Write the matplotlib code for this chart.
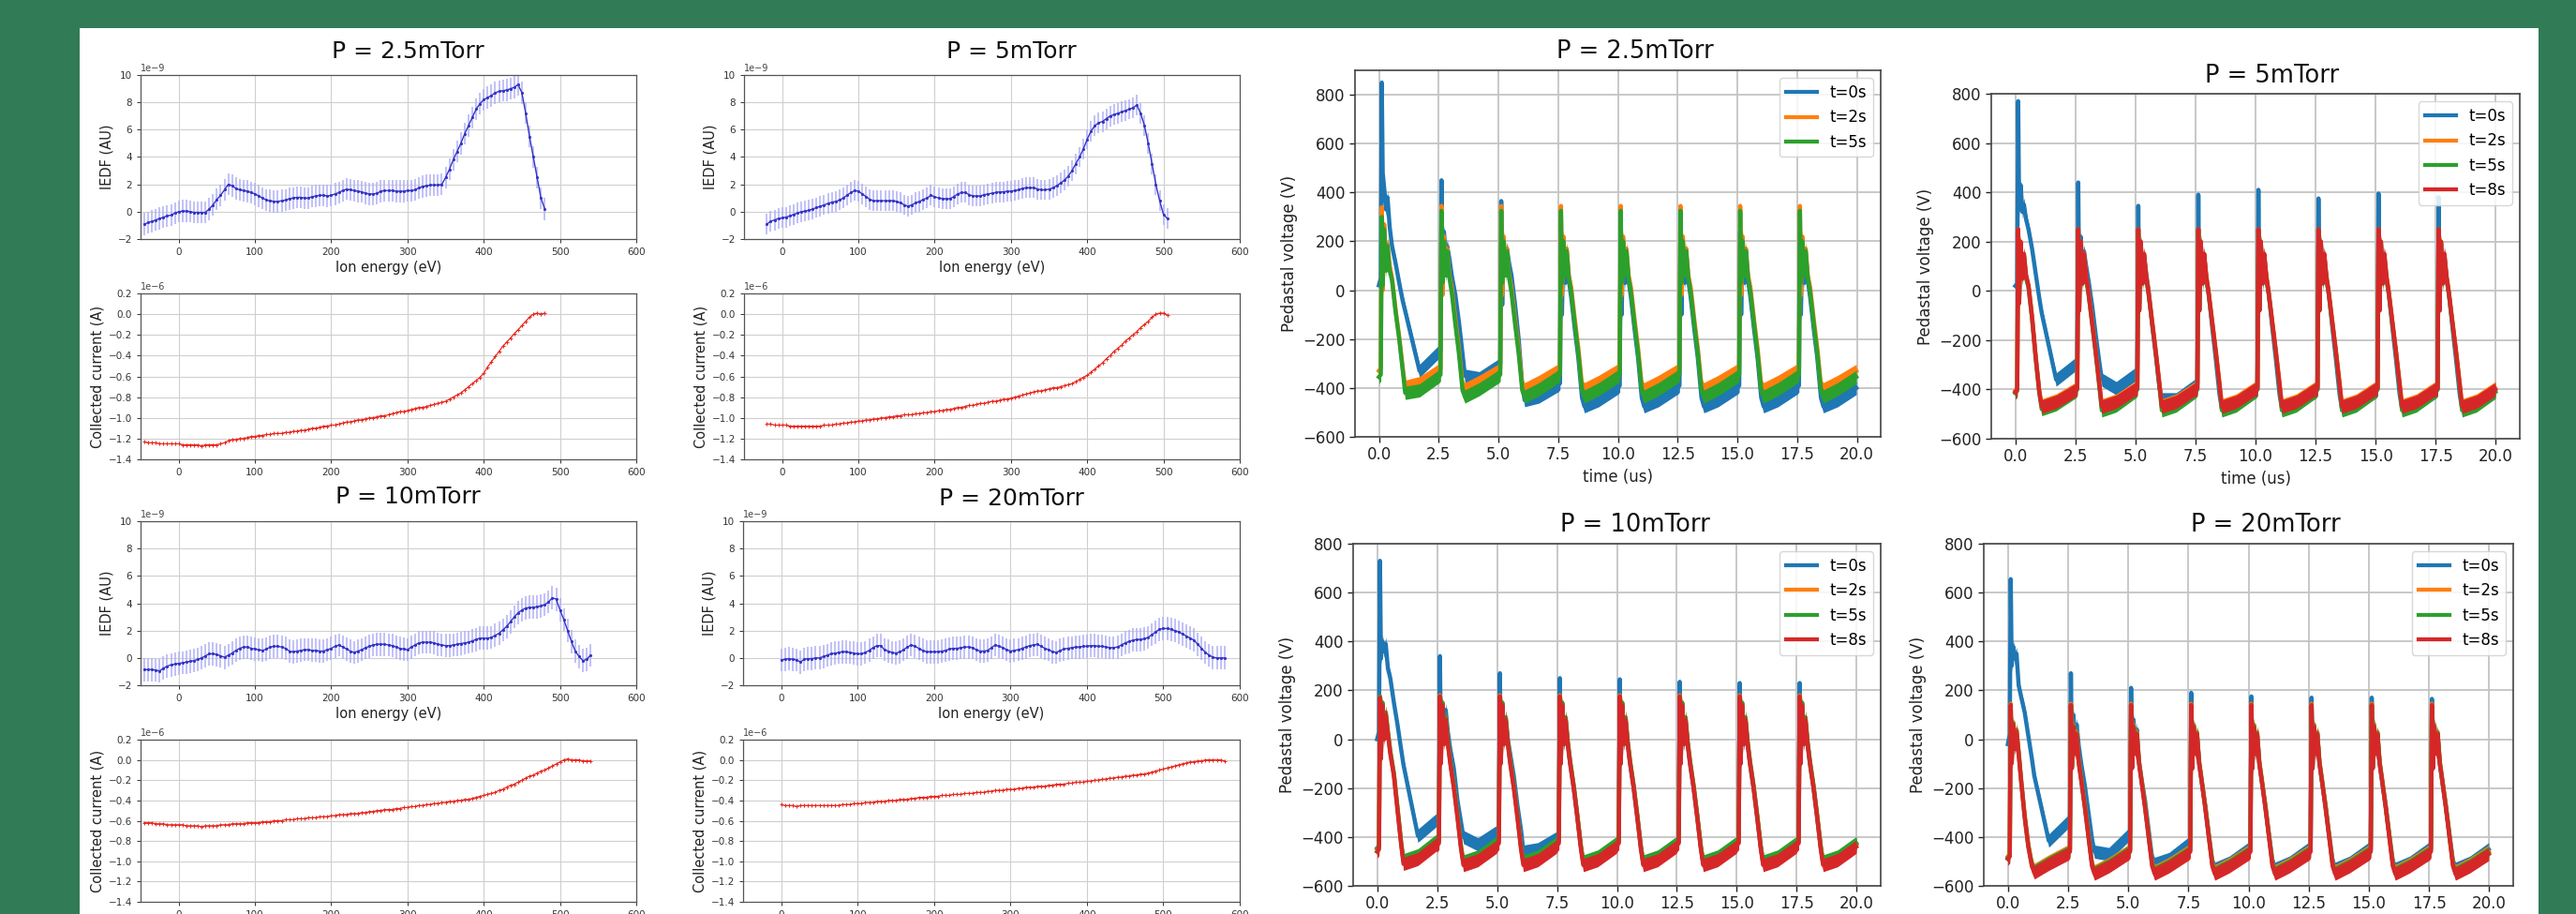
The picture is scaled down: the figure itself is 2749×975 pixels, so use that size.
import numpy as np
import matplotlib
matplotlib.use("Agg")
import matplotlib.pyplot as plt
from matplotlib.patches import Rectangle
from matplotlib.ticker import ScalarFormatter

# ---------------------------------------------------------------- data
E_STEP = 5  # eV between retarding-field samples

# IEDF (units of 1e-9 AU) and collected current (units of 1e-6 A)
E0_25 = -45
IEDF_25 = [-0.9, -0.8, -0.7, -0.6, -0.5, -0.4, -0.3, -0.25, -0.1, 0.0, 0.05, 0.05, 0.0, -0.05, -0.05,
           -0.05, -0.05, 0.2, 0.5, 0.9, 1.2, 1.6, 2.0, 1.9, 1.7, 1.6, 1.55, 1.5, 1.4, 1.3, 1.15, 1.0,
           0.85, 0.8, 0.75, 0.75, 0.8, 0.85, 0.95, 1.0, 1.05, 1.05, 1.0, 1.0, 1.1, 1.15, 1.2, 1.2, 1.15,
           1.2, 1.3, 1.4, 1.55, 1.65, 1.6, 1.55, 1.5, 1.45, 1.35, 1.3, 1.3, 1.35, 1.5, 1.55, 1.55, 1.55,
           1.5, 1.5, 1.5, 1.55, 1.55, 1.6, 1.75, 1.85, 1.9, 1.95, 1.95, 1.95, 2.0, 2.5, 3.1, 3.8, 4.4,
           5.0, 5.7, 6.3, 6.9, 7.5, 7.9, 8.2, 8.35, 8.5, 8.7, 8.8, 8.85, 8.9, 9.0, 9.1, 9.3, 8.7, 7.2,
           5.5, 4.0, 2.5, 1.0, 0.2]
CUR_25 = [-1.23, -1.24, -1.24, -1.24, -1.25, -1.25, -1.25, -1.25, -1.25, -1.25, -1.26, -1.26, -1.26,
          -1.26, -1.26, -1.27, -1.26, -1.26, -1.26, -1.26, -1.25, -1.24, -1.22, -1.21, -1.21, -1.2,
          -1.2, -1.19, -1.18, -1.18, -1.17, -1.17, -1.16, -1.16, -1.15, -1.15, -1.15, -1.14, -1.14,
          -1.13, -1.13, -1.12, -1.12, -1.11, -1.1, -1.1, -1.09, -1.08, -1.08, -1.07, -1.07, -1.06,
          -1.05, -1.04, -1.04, -1.03, -1.02, -1.02, -1.01, -1.0, -1.0, -0.99, -0.98, -0.98, -0.97,
          -0.96, -0.95, -0.94, -0.94, -0.93, -0.92, -0.91, -0.9, -0.9, -0.89, -0.88, -0.87, -0.86,
          -0.85, -0.84, -0.82, -0.8, -0.78, -0.76, -0.73, -0.7, -0.67, -0.64, -0.61, -0.57, -0.51,
          -0.46, -0.41, -0.36, -0.31, -0.27, -0.23, -0.19, -0.15, -0.11, -0.07, -0.03, 0.0, 0.01,
          0.0, 0.01]

E0_5 = -20
IEDF_5 = [-0.9, -0.7, -0.6, -0.5, -0.45, -0.4, -0.3, -0.2, -0.1, 0.0, 0.05, 0.1, 0.2, 0.3, 0.4, 0.5,
          0.6, 0.7, 0.75, 0.85, 1.0, 1.2, 1.4, 1.55, 1.5, 1.3, 1.1, 0.9, 0.8, 0.8, 0.8, 0.8, 0.8, 0.8,
          0.75, 0.65, 0.5, 0.4, 0.5, 0.65, 0.75, 0.9, 1.0, 1.2, 1.1, 1.0, 0.95, 0.95, 0.95, 1.1, 1.3,
          1.4, 1.4, 1.25, 1.15, 1.15, 1.15, 1.25, 1.3, 1.35, 1.4, 1.45, 1.45, 1.5, 1.5, 1.55, 1.6,
          1.7, 1.75, 1.75, 1.75, 1.65, 1.6, 1.6, 1.65, 1.75, 1.9, 2.1, 2.3, 2.6, 3.0, 3.5, 4.0, 4.6,
          5.3, 5.9, 6.3, 6.5, 6.6, 6.8, 7.0, 7.1, 7.2, 7.3, 7.4, 7.5, 7.6, 7.8, 7.2, 6.3, 5.0, 3.5,
          2.0, 0.8, -0.2, -0.5]
CUR_5 = [-1.06, -1.06, -1.07, -1.07, -1.07, -1.07, -1.08, -1.08, -1.08, -1.08, -1.08, -1.08, -1.08,
         -1.08, -1.08, -1.07, -1.07, -1.07, -1.06, -1.06, -1.05, -1.05, -1.04, -1.04, -1.03, -1.03,
         -1.02, -1.02, -1.01, -1.01, -1.0, -1.0, -0.99, -0.99, -0.98, -0.98, -0.97, -0.97, -0.97,
         -0.96, -0.96, -0.95, -0.95, -0.94, -0.94, -0.93, -0.93, -0.92, -0.92, -0.91, -0.9, -0.9,
         -0.89, -0.88, -0.88, -0.87, -0.86, -0.86, -0.85, -0.84, -0.84, -0.83, -0.82, -0.82, -0.81,
         -0.8, -0.79, -0.78, -0.77, -0.76, -0.75, -0.74, -0.74, -0.73, -0.72, -0.71, -0.71, -0.7,
         -0.69, -0.68, -0.67, -0.65, -0.63, -0.61, -0.59, -0.56, -0.53, -0.5, -0.47, -0.43, -0.4,
         -0.36, -0.33, -0.3, -0.26, -0.23, -0.2, -0.17, -0.13, -0.1, -0.07, -0.03, 0.0, 0.01, 0.01,
         -0.01]

E0_10 = -45
IEDF_10 = [-0.85, -0.85, -0.85, -0.9, -0.95, -0.75, -0.6, -0.5, -0.45, -0.4, -0.35, -0.3, -0.25,
           -0.2, -0.1, 0.0, 0.15, 0.3, 0.3, 0.25, 0.15, 0.05, 0.2, 0.35, 0.55, 0.7, 0.8, 0.8, 0.7,
           0.65, 0.6, 0.55, 0.65, 0.8, 0.85, 0.85, 0.8, 0.7, 0.5, 0.45, 0.5, 0.55, 0.6, 0.6, 0.55,
           0.55, 0.5, 0.5, 0.6, 0.7, 0.85, 0.95, 0.8, 0.65, 0.5, 0.4, 0.5, 0.6, 0.75, 0.85, 0.95,
           1.0, 1.0, 1.0, 0.95, 0.9, 0.8, 0.7, 0.65, 0.6, 0.8, 0.95, 1.1, 1.15, 1.15, 1.15, 1.1,
           1.0, 0.95, 0.9, 0.9, 0.95, 1.0, 1.05, 1.1, 1.15, 1.25, 1.35, 1.45, 1.45, 1.45, 1.5, 1.65,
           1.8, 2.05, 2.3, 2.65, 3.0, 3.3, 3.5, 3.65, 3.7, 3.7, 3.75, 3.8, 3.9, 4.1, 4.4, 4.3, 3.5,
           2.8, 2.0, 1.2, 0.5, 0.1, -0.2, -0.1, 0.2]
CUR_10 = [-0.62, -0.62, -0.62, -0.63, -0.63, -0.63, -0.64, -0.64, -0.64, -0.64, -0.64, -0.65, -0.65,
          -0.65, -0.65, -0.66, -0.65, -0.65, -0.65, -0.65, -0.64, -0.64, -0.64, -0.63, -0.63, -0.63,
          -0.63, -0.62, -0.62, -0.62, -0.62, -0.61, -0.61, -0.61, -0.6, -0.6, -0.6, -0.59, -0.59,
          -0.59, -0.58, -0.58, -0.58, -0.57, -0.57, -0.57, -0.56, -0.56, -0.56, -0.55, -0.55, -0.54,
          -0.54, -0.54, -0.53, -0.53, -0.53, -0.52, -0.52, -0.51, -0.51, -0.5, -0.5, -0.49, -0.49,
          -0.49, -0.48, -0.48, -0.47, -0.47, -0.46, -0.46, -0.45, -0.45, -0.44, -0.44, -0.43, -0.43,
          -0.42, -0.42, -0.41, -0.41, -0.4, -0.4, -0.39, -0.39, -0.38, -0.37, -0.36, -0.35, -0.34,
          -0.33, -0.32, -0.3, -0.29, -0.27, -0.25, -0.24, -0.22, -0.2, -0.18, -0.16, -0.15, -0.13,
          -0.11, -0.1, -0.08, -0.06, -0.04, -0.02, 0.0, 0.01, 0.0, 0.0, 0.0, -0.01, -0.01, -0.01]

E0_20 = 0
IEDF_20 = [-0.15, -0.1, -0.05, -0.1, -0.15, -0.3, -0.1, -0.05, -0.05, 0.0, 0.0, 0.1, 0.2, 0.3, 0.35,
           0.4, 0.45, 0.45, 0.4, 0.35, 0.3, 0.3, 0.4, 0.55, 0.75, 0.9, 0.9, 0.6, 0.5, 0.4, 0.35,
           0.45, 0.6, 0.8, 0.95, 0.85, 0.7, 0.55, 0.45, 0.45, 0.45, 0.45, 0.5, 0.55, 0.65, 0.7, 0.7,
           0.75, 0.8, 0.8, 0.75, 0.6, 0.5, 0.5, 0.55, 0.75, 0.95, 0.85, 0.75, 0.6, 0.5, 0.55, 0.6,
           0.7, 0.8, 0.9, 0.95, 1.0, 0.85, 0.7, 0.6, 0.45, 0.4, 0.55, 0.65, 0.7, 0.75, 0.8, 0.8,
           0.85, 0.85, 0.9, 0.9, 0.85, 0.85, 0.8, 0.75, 0.75, 0.8, 0.95, 1.1, 1.2, 1.3, 1.35, 1.35,
           1.4, 1.5, 1.7, 1.9, 2.1, 2.15, 2.15, 2.1, 2.0, 1.9, 1.75, 1.6, 1.45, 1.3, 1.0, 0.7, 0.4,
           0.2, 0.05, 0.0, 0.0, 0.0]
CUR_20 = [-0.44, -0.45, -0.45, -0.45, -0.46, -0.45, -0.45, -0.45, -0.45, -0.45, -0.45, -0.45, -0.45,
          -0.45, -0.45, -0.45, -0.44, -0.44, -0.44, -0.43, -0.43, -0.43, -0.42, -0.42, -0.42, -0.41,
          -0.41, -0.41, -0.4, -0.4, -0.4, -0.39, -0.39, -0.39, -0.38, -0.38, -0.37, -0.37, -0.37,
          -0.36, -0.36, -0.36, -0.35, -0.35, -0.35, -0.34, -0.34, -0.34, -0.33, -0.33, -0.33, -0.32,
          -0.32, -0.32, -0.31, -0.31, -0.3, -0.3, -0.3, -0.29, -0.29, -0.29, -0.28, -0.28, -0.27,
          -0.27, -0.27, -0.26, -0.26, -0.26, -0.25, -0.25, -0.24, -0.24, -0.24, -0.23, -0.23, -0.22,
          -0.22, -0.22, -0.21, -0.21, -0.2, -0.2, -0.19, -0.19, -0.18, -0.18, -0.17, -0.17, -0.16,
          -0.16, -0.15, -0.15, -0.14, -0.14, -0.13, -0.12, -0.11, -0.1, -0.09, -0.08, -0.07, -0.06,
          -0.05, -0.04, -0.03, -0.02, -0.02, -0.01, -0.01, 0.0, 0.0, 0.0, 0.0, 0.0, -0.01]

IEDF_ERR = {"2.5": 0.8, "5": 0.75, "10": 0.85, "20": 0.85}   # 1e-9 AU
CUR_ERR = 0.015                                              # 1e-6 A

IEDF_YTICKS = [-2, 0, 2, 4, 6, 8, 10]
CUR_YTICKS = [-1.4, -1.2, -1.0, -0.8, -0.6, -0.4, -0.2, 0.0, 0.2]
ENERGY_TICKS = [0, 100, 200, 300, 400, 500, 600]

# Pedestal voltage waveforms: one row per RF period, values (V) at these phases (us)
PERIOD_US = 2.5
PHASE_US = [0.00, 0.08, 0.12, 0.16, 0.22, 0.30, 0.36, 0.45, 0.55, 0.70, 0.85, 1.00, 1.10, 1.70, 2.48]
NOISE_V = 27   # half-width of the noise band on the traces

V25_BLUE = [
    [20, 50, 850, 480, 420, 330, 380, 260, 180, 110, 30, -45, -85, -330, -255],
    [-255, -245, 450, 20, 240, 150, 180, 130, 60, -20, -130, -260, -350, -360, -310],
    [-310, -300, 365, -60, 200, 100, 170, 110, 60, -60, -200, -390, -450, -435, -390],
    [-390, -380, 300, -100, 190, 30, 150, 40, -30, -160, -280, -440, -475, -450, -400],
    [-400, -390, 245, -100, 190, 30, 150, 40, -30, -160, -280, -440, -475, -450, -400],
    [-400, -390, 240, -100, 190, 30, 150, 40, -30, -160, -280, -440, -475, -450, -400],
    [-400, -390, 240, -100, 190, 30, 150, 40, -30, -160, -280, -440, -475, -450, -400],
    [-400, -390, 240, -100, 190, 30, 150, 40, -30, -160, -280, -440, -475, -450, -400],
]
V25_ORANGE_P1 = [-330, -320, 340, 0, 270, 100, 190, 100, 50, -80, -190, -320, -395, -380, -330]
V25_ORANGE_STEADY = [-330, -320, 345, -20, 220, 80, 170, 60, 10, -120, -240, -390, -405, -375, -330]
V25_GREEN_P1 = [-355, -345, 300, 20, 250, 80, 180, 80, 40, -90, -200, -330, -420, -410, -355]
V25_GREEN_STEADY = [-355, -345, 325, 30, 200, 60, 160, 50, -10, -140, -260, -410, -435, -405, -355]

V5_BLUE = [
    [20, 30, 770, 330, 430, 320, 350, 290, 250, 170, 70, -30, -90, -360, -300],
    [-300, -290, 440, 0, 220, 100, 160, 100, 40, -60, -180, -290, -360, -395, -340],
    [-340, -330, 345, -50, 200, 80, 140, 70, 0, -140, -260, -390, -440, -440, -385],
    [-385, -375, 390, -80, 200, 50, 150, 50, -10, -150, -280, -420, -480, -460, -410],
    [-410, -400, 410, -80, 200, 50, 150, 50, -10, -150, -280, -420, -480, -460, -410],
    [-410, -400, 375, -80, 200, 50, 150, 50, -10, -150, -280, -420, -480, -460, -410],
    [-410, -400, 395, -80, 200, 50, 150, 50, -10, -150, -280, -420, -480, -460, -410],
    [-410, -400, 380, -80, 200, 50, 150, 50, -10, -150, -280, -420, -480, -460, -410],
]
V5_ORANGE_P1 = [-405, -395, 250, -40, 200, 60, 150, 60, 25, -105, -265, -405, -465, -445, -400]
V5_ORANGE_STEADY = [-400, -390, 250, -70, 200, 40, 150, 60, -5, -125, -245, -375, -465, -445, -395]
V5_GREEN_P1 = [-415, -405, 240, -50, 190, 50, 140, 50, 15, -115, -275, -415, -480, -460, -410]
V5_GREEN_STEADY = [-410, -400, 250, -80, 190, 30, 140, 50, -15, -135, -255, -390, -485, -465, -410]
V5_RED_P1 = [-410, -400, 250, -50, 200, 50, 150, 60, 20, -110, -270, -410, -470, -450, -405]
V5_RED_STEADY = [-405, -395, 250, -80, 200, 30, 150, 60, -10, -130, -250, -380, -470, -450, -400]

V10_BLUE = [
    [0, 30, 730, 330, 400, 360, 390, 290, 250, 150, 60, -40, -105, -395, -330],
    [-330, -320, 340, -50, 150, 50, 120, 30, -40, -120, -250, -340, -400, -430, -380],
    [-380, -370, 270, -80, 130, 0, 90, 0, -60, -150, -270, -370, -460, -450, -405],
    [-405, -395, 250, -100, 120, -20, 80, -20, -100, -200, -320, -440, -510, -490, -430],
    [-430, -420, 245, -100, 120, -20, 80, -20, -100, -200, -320, -440, -510, -490, -430],
    [-430, -420, 235, -100, 120, -20, 80, -20, -100, -200, -320, -440, -510, -490, -430],
    [-430, -420, 230, -100, 120, -20, 80, -20, -100, -200, -320, -440, -510, -490, -430],
    [-430, -420, 230, -100, 120, -20, 80, -20, -100, -200, -320, -440, -510, -490, -430],
]
V10_ORANGE_P1 = [-450, -440, 175, -70, 150, 10, 110, 30, -50, -140, -280, -420, -500, -480, -420]
V10_ORANGE_STEADY = [-425, -415, 180, -90, 150, -10, 90, -10, -90, -190, -310, -440, -505, -485, -430]
V10_GREEN_P1 = [-445, -435, 175, -70, 150, 10, 110, 30, -50, -140, -280, -420, -495, -475, -415]
V10_GREEN_STEADY = [-420, -410, 175, -90, 150, -10, 90, -10, -90, -190, -310, -440, -500, -480, -425]
V10_RED_P1 = [-460, -450, 170, -80, 140, 0, 100, 20, -60, -150, -290, -430, -510, -490, -430]
V10_RED_STEADY = [-435, -425, 175, -100, 140, -20, 80, -20, -100, -200, -320, -450, -515, -495, -440]

V20_BLUE = [
    [-20, 20, 655, 300, 380, 330, 350, 220, 175, 110, 15, -80, -150, -415, -340],
    [-340, -330, 270, -50, 100, 0, 60, -30, -100, -190, -300, -410, -460, -470, -395],
    [-395, -385, 210, -80, 80, -20, 40, -90, -160, -250, -370, -490, -510, -490, -430],
    [-430, -425, 190, -120, 60, -40, 20, -100, -170, -270, -390, -500, -530, -505, -450],
    [-450, -440, 175, -120, 60, -40, 20, -100, -170, -270, -390, -500, -530, -505, -450],
    [-450, -440, 170, -120, 60, -40, 20, -100, -170, -270, -390, -500, -530, -505, -450],
    [-450, -440, 170, -120, 60, -40, 20, -100, -170, -270, -390, -500, -530, -505, -450],
    [-450, -440, 165, -120, 60, -40, 20, -100, -170, -270, -390, -500, -530, -505, -450],
]
V20_ORANGE_P1 = [-480, -470, 145, -90, 70, -30, 40, -50, -160, -310, -430, -510, -535, -500, -460]
V20_ORANGE_STEADY = [-460, -450, 145, -110, 60, -50, 30, -90, -160, -270, -390, -510, -540, -510, -460]
V20_GREEN_P1 = [-485, -475, 140, -95, 65, -35, 35, -55, -165, -315, -435, -515, -540, -505, -465]
V20_GREEN_STEADY = [-465, -455, 140, -115, 55, -55, 25, -95, -165, -275, -395, -515, -545, -515, -465]
V20_RED_P1 = [-490, -480, 140, -100, 60, -40, 30, -60, -170, -320, -440, -520, -545, -510, -470]
V20_RED_STEADY = [-470, -460, 140, -120, 50, -60, 20, -100, -170, -280, -400, -520, -550, -520, -470]

N_PERIODS = 8
TIME_TICKS = [0.0, 2.5, 5.0, 7.5, 10.0, 12.5, 15.0, 17.5, 20.0]
VOLT_TICKS = [-600, -400, -200, 0, 200, 400, 600, 800]
SERIES_LABELS = ["t=0s", "t=2s", "t=5s", "t=8s"]
SERIES_COLORS = ["#1f77b4", "#ff7f0e", "#2ca02c", "#d62728"]

# ---------------------------------------------------------------- figure
W, H = 2749, 975
fig = plt.figure(figsize=(W / 100, H / 100), dpi=100)
fig.patch.set_facecolor("#317B56")
fig.patches.append(Rectangle((85 / W, 0), (2709 - 85) / W, (975 - 30) / H,
                             transform=fig.transFigure, facecolor="white",
                             edgecolor="none", zorder=-5))


def ax_at(x0, y0, x1, y1):
    return fig.add_axes([x0 / W, 1 - y1 / H, (x1 - x0) / W, (y1 - y0) / H])


def fig_title(x, y, s, size):
    fig.text(x / W, 1 - y / H, s, ha="center", va="center", fontsize=size,
             color="#111111", family="DejaVu Sans")


def fixed_exponent(ax, exp):
    fmt = ScalarFormatter(useOffset=False)
    fmt.set_powerlimits((exp, exp))
    ax.yaxis.set_major_formatter(fmt)


def style_small(ax):
    ax.grid(True, color="#cfcfcf", lw=0.8)
    ax.set_axisbelow(True)
    ax.tick_params(labelsize=7.5, colors="#333333", length=3, width=0.7)
    for s in ax.spines.values():
        s.set_color("#555555")
        s.set_linewidth(0.9)
    ax.yaxis.get_offset_text().set_fontsize(7)
    ax.yaxis.get_offset_text().set_color("#444444")


def iedf_group(title, tx, ty, box_iedf, box_cur, e0, iedf, cur, err):
    fig_title(tx, ty, title, 18)
    ax = ax_at(*box_iedf)
    x = e0 + E_STEP * np.arange(len(iedf))
    ax.errorbar(x, np.array(iedf) * 1e-9, yerr=err * 1e-9, fmt=".-", color="#3434c4",
                ecolor="#b0b0f6", elinewidth=1.1, lw=1.0, ms=2.5, capsize=0)
    ax.set_xlim(-50, 600)
    ax.set_ylim(-2e-9, 10e-9)
    ax.set_xticks(ENERGY_TICKS)
    ax.set_yticks(np.array(IEDF_YTICKS) * 1e-9)
    fixed_exponent(ax, -9)
    ax.set_xlabel("Ion energy (eV)", fontsize=10.5, color="#222222", labelpad=3)
    ax.set_ylabel("IEDF (AU)", fontsize=10.5, color="#222222", labelpad=3)
    style_small(ax)

    ax2 = ax_at(*box_cur)
    x2 = e0 + E_STEP * np.arange(len(cur))
    ax2.errorbar(x2, np.array(cur) * 1e-6, yerr=CUR_ERR * 1e-6, fmt="+-", color="#e8281e",
                 ecolor="#f29a94", elinewidth=0.9, lw=0.9, ms=2.5, mew=0.7, capsize=0)
    ax2.set_xlim(-50, 600)
    ax2.set_ylim(-1.4e-6, 0.2e-6)
    ax2.set_xticks(ENERGY_TICKS)
    ax2.set_yticks(np.array(CUR_YTICKS) * 1e-6)
    fixed_exponent(ax2, -6)
    ax2.set_ylabel("Collected current (A)", fontsize=10.5, color="#222222", labelpad=3)
    style_small(ax2)


iedf_group("P = 2.5mTorr", 435, 55, (150, 80, 679, 255), (150, 313, 679, 490),
           E0_25, IEDF_25, CUR_25, IEDF_ERR["2.5"])
iedf_group("P = 5mTorr", 1079, 55, (794, 80, 1323, 255), (794, 313, 1323, 490),
           E0_5, IEDF_5, CUR_5, IEDF_ERR["5"])
iedf_group("P = 10mTorr", 435, 530, (150, 556, 679, 731), (150, 789, 679, 962),
           E0_10, IEDF_10, CUR_10, IEDF_ERR["10"])
iedf_group("P = 20mTorr", 1079, 532, (793, 556, 1323, 731), (793, 789, 1323, 962),
           E0_20, IEDF_20, CUR_20, IEDF_ERR["20"])


def waveform(rows):
    t = np.concatenate([k * PERIOD_US + np.array(PHASE_US) for k in range(len(rows))])
    v = np.concatenate([np.array(r, dtype=float) for r in rows])
    return t, v


def volt_panel(title, tx, ty, box, series, ytop):
    fig_title(tx, ty, title, 18.5)
    ax = ax_at(*box)
    for i, rows in enumerate(series):
        t, v = waveform(rows)
        col = SERIES_COLORS[i]
        ax.fill_between(t, v - NOISE_V, v + NOISE_V, color=col, lw=0, zorder=2 + i)
        ax.plot(t, v, color=col, lw=3.2, label=SERIES_LABELS[i], zorder=2.5 + i)
    ax.set_xlim(-1, 21)
    ax.set_ylim(-600, ytop)
    ax.set_xticks(TIME_TICKS)
    ax.set_yticks(VOLT_TICKS)
    ax.grid(True, color="#c4c4c4", lw=1.3)
    ax.set_axisbelow(True)
    ax.tick_params(labelsize=12, colors="#222222", length=4, width=1)
    for s in ax.spines.values():
        s.set_color("#444444")
        s.set_linewidth(1.2)
    ax.set_xlabel("time (us)", fontsize=12, color="#222222")
    ax.set_ylabel("Pedastal voltage (V)", fontsize=12, color="#222222")
    leg = ax.legend(loc="upper right", fontsize=12, framealpha=0.85, edgecolor="#d0d0d0",
                    fancybox=True)
    for h in leg.get_lines():
        h.set_linewidth(3.0)
    leg.set_zorder(20)
    return ax


volt_panel("P = 2.5mTorr", 1745, 55, (1446, 75, 2007, 466),
           [V25_BLUE,
            [V25_ORANGE_P1] + [V25_ORANGE_STEADY] * (N_PERIODS - 1),
            [V25_GREEN_P1] + [V25_GREEN_STEADY] * (N_PERIODS - 1)], 900)
volt_panel("P = 5mTorr", 2425, 81, (2125, 100, 2689, 468),
           [V5_BLUE,
            [V5_ORANGE_P1] + [V5_ORANGE_STEADY] * (N_PERIODS - 1),
            [V5_GREEN_P1] + [V5_GREEN_STEADY] * (N_PERIODS - 1),
            [V5_RED_P1] + [V5_RED_STEADY] * (N_PERIODS - 1)], 800)
volt_panel("P = 10mTorr", 1745, 560, (1444, 580, 2007, 945),
           [V10_BLUE,
            [V10_ORANGE_P1] + [V10_ORANGE_STEADY] * (N_PERIODS - 1),
            [V10_GREEN_P1] + [V10_GREEN_STEADY] * (N_PERIODS - 1),
            [V10_RED_P1] + [V10_RED_STEADY] * (N_PERIODS - 1)], 800)
volt_panel("P = 20mTorr", 2418, 560, (2117, 580, 2682, 945),
           [V20_BLUE,
            [V20_ORANGE_P1] + [V20_ORANGE_STEADY] * (N_PERIODS - 1),
            [V20_GREEN_P1] + [V20_GREEN_STEADY] * (N_PERIODS - 1),
            [V20_RED_P1] + [V20_RED_STEADY] * (N_PERIODS - 1)], 800)

fig.savefig("out.png", dpi=100, facecolor=fig.get_facecolor())
